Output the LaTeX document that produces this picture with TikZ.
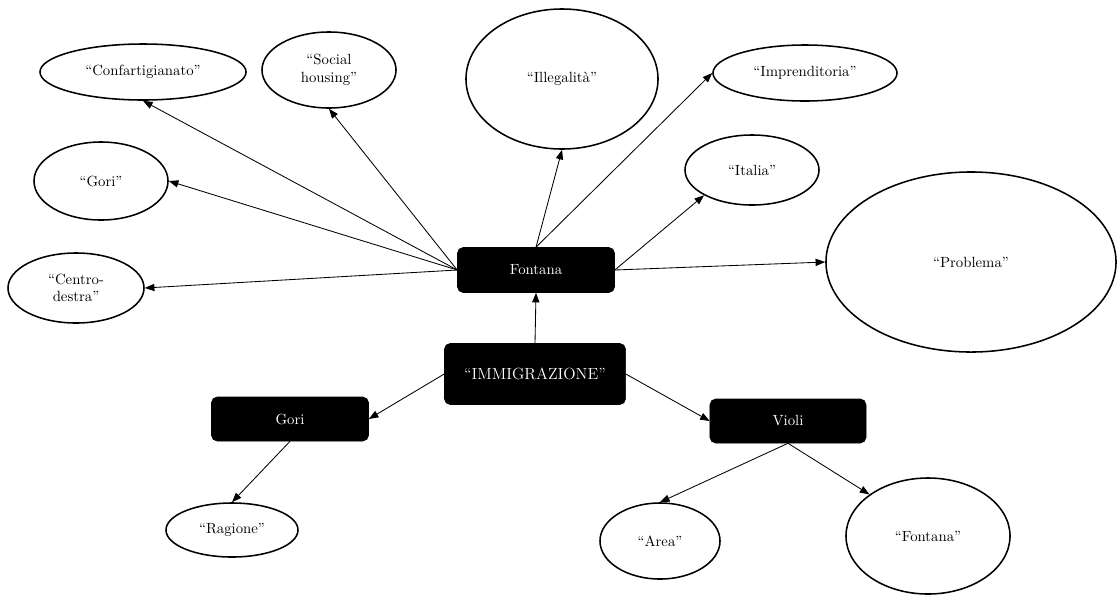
\documentclass[tikz,border=0pt]{standalone}
\usepackage{tikz}
\usetikzlibrary{arrows.meta,shapes.geometric}
\tikzset{
  ovalnode/.style={draw, line width=1.1pt, ellipse, inner sep=0pt, align=center, font=\fontsize{10.5}{12.5}\selectfont},
  darkbox/.style={draw, fill=black, text=white, rounded corners=4pt, inner sep=0pt, font=\fontsize{10.5}{12.5}\selectfont},
  cline/.style={-{Triangle[length=2.4mm,width=1.8mm]}, semithick},
}

\begin{document}
\begin{tikzpicture}[x=0.025cm, y=-0.025cm]
  \useasboundingbox (0,0) rectangle (1117,594);
  % boxes
  \node[darkbox, minimum width=3.925cm, minimum height=1.125cm] (fontana) at (536,270) {Fontana};
  \node[darkbox, minimum width=4.525cm, minimum height=1.525cm, font=\fontsize{11.5}{13}\selectfont] (immig) at (535,374) {``IMMIGRAZIONE''};
  \node[darkbox, minimum width=3.925cm, minimum height=1.1cm] (gori) at (290,419) {Gori};
  \node[darkbox, minimum width=3.9cm, minimum height=1.1cm] (violi) at (788,421) {Violi};
  % ovals round Fontana
  \node[ovalnode, minimum width=5.15cm, minimum height=1.4cm] (confart) at (143,72) {``Confartigianato''};
  \node[ovalnode, minimum width=3.35cm, minimum height=1.9cm] (social) at (329,70) {``Social\\housing''};
  \node[ovalnode, minimum width=4.8cm, minimum height=3.5cm] (illeg) at (562,79) {``Illegalit\`a''};
  \node[ovalnode, minimum width=4.6cm, minimum height=1.4cm] (impr) at (805,73) {``Imprenditoria''};
  \node[ovalnode, minimum width=3.35cm, minimum height=1.95cm] (goriq) at (101,181) {``Gori''};
  \node[ovalnode, minimum width=3.35cm, minimum height=1.75cm] (italia) at (752,170) {``Italia''};
  \node[ovalnode, minimum width=3.4cm, minimum height=1.75cm] (centro) at (76,288) {``Centro-\\destra''};
  \node[ovalnode, minimum width=7.25cm, minimum height=4.5cm] (problema) at (971,262) {``Problema''};
  % ovals below
  \node[ovalnode, minimum width=3.3cm, minimum height=1.35cm] (ragione) at (232,530) {``Ragione''};
  \node[ovalnode, minimum width=3.0cm, minimum height=1.9cm] (area) at (660,541) {``Area''};
  \node[ovalnode, minimum width=4.1cm, minimum height=2.9cm] (fontanaq) at (928,536) {``Fontana''};
  % connectors
  \draw[cline] (fontana.west) -- (confart.south);
  \draw[cline] (fontana.west) -- (goriq.east);
  \draw[cline] (fontana.west) -- (centro.east);
  \draw[cline] (fontana.west) -- (social.south);
  \draw[cline] (fontana.north) -- (illeg.south);
  \draw[cline] (fontana.north) -- (impr.west);
  \draw[cline] (fontana.east) -- (italia.south west);
  \draw[cline] (fontana.east) -- (problema.west);
  \draw[cline] (immig.north) -- (fontana.south);
  \draw[cline] (immig.west) -- (gori.east);
  \draw[cline] (immig.east) -- (violi.west);
  \draw[cline] (gori.south) -- (ragione.north);
  \draw[cline] (violi.south) -- (area.north);
  \draw[cline] (violi.south) -- (fontanaq.north west);
\end{tikzpicture}
\end{document}
